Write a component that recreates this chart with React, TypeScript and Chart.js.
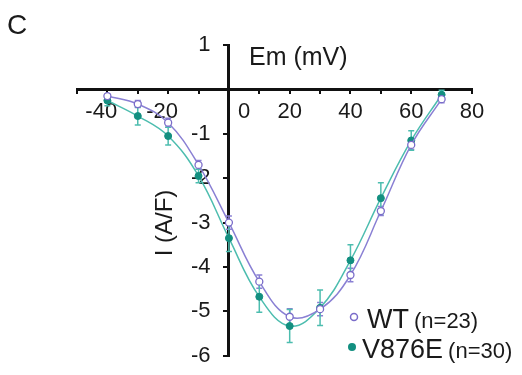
import React, { useEffect, useRef } from "react";
import { Chart, registerables } from "chart.js";

Chart.register(...registerables);

const voltages = [-40, -30, -20, -10, 0, 10, 20, 30, 40, 50, 60, 70];
const wtCurrent = [-0.15, -0.33, -0.75, -1.7, -3.0, -4.33, -5.12, -4.95, -4.18, -2.74, -1.25, -0.22];
const wtErr = [0.05, 0.08, 0.1, 0.1, 0.15, 0.15, 0.18, 0.15, 0.15, 0.1, 0.1, 0.08];
const mutCurrent = [-0.25, -0.6, -1.05, -1.95, -3.35, -4.67, -5.33, -4.92, -3.85, -2.45, -1.15, -0.12];
const mutErr = [0.12, 0.2, 0.2, 0.15, 0.3, 0.35, 0.37, 0.4, 0.35, 0.35, 0.22, 0.1];
const xTickLabels = ["-40", "-20", "0", "20", "40", "60", "80"];
const panelLabel = "C";
const xTitle = "Em (mV)";
const yTitle = "I (A/F)";
const legendNames = ["WT", "V876E"];
const legendNs = ["(n=23)", "(n=30)"];

const WT_COLOR = "#7a6cc9";
const WT_LINE = "#8a80d4";
const MUT_COLOR = "#138f80";
const MUT_LINE = "#4dbdaf";
const TEXT = "#1a1a1a";
const FONT = "'Liberation Sans', Arial, sans-serif";

export default function App() {
  const ref = useRef<HTMLCanvasElement | null>(null);
  useEffect(() => {
    if (!ref.current) return;
    const errPlugin = {
      id: "errbars",
      beforeDatasetsDraw(chart: any) {
        const { ctx, scales } = chart;
        const xs = scales.x;
        const ys = scales.y;
        const draw = (vals: number[], errs: number[], color: string) => {
          ctx.save();
          ctx.strokeStyle = color;
          ctx.lineWidth = 1.5;
          voltages.forEach((v, i) => {
            const px = xs.getPixelForValue(v);
            const top = ys.getPixelForValue(vals[i] + errs[i]);
            const bot = ys.getPixelForValue(vals[i] - errs[i]);
            ctx.beginPath();
            ctx.moveTo(px, top);
            ctx.lineTo(px, bot);
            ctx.moveTo(px - 3, top);
            ctx.lineTo(px + 3, top);
            ctx.moveTo(px - 3, bot);
            ctx.lineTo(px + 3, bot);
            ctx.stroke();
          });
          ctx.restore();
        };
        draw(wtCurrent, wtErr, WT_LINE);
        draw(mutCurrent, mutErr, MUT_LINE);
      },
    };
    const textPlugin = {
      id: "texts",
      afterDraw(chart: any) {
        const { ctx } = chart;
        ctx.save();
        ctx.fillStyle = TEXT;
        ctx.textBaseline = "alphabetic";
        ctx.textAlign = "left";
        ctx.font = `28px ${FONT}`;
        ctx.fillText(panelLabel, 7, 34);
        ctx.font = `25px ${FONT}`;
        ctx.fillText(xTitle, 249, 65);
        ctx.save();
        ctx.translate(172, 223);
        ctx.rotate(-Math.PI / 2);
        ctx.textAlign = "center";
        ctx.font = `24px ${FONT}`;
        ctx.fillText(yTitle, 0, 0);
        ctx.restore();
        // legend markers
        ctx.beginPath();
        ctx.arc(354, 317, 3.5, 0, Math.PI * 2);
        ctx.fillStyle = "#fff";
        ctx.fill();
        ctx.strokeStyle = WT_COLOR;
        ctx.lineWidth = 1.5;
        ctx.stroke();
        ctx.beginPath();
        ctx.arc(352, 347, 4, 0, Math.PI * 2);
        ctx.fillStyle = MUT_COLOR;
        ctx.fill();
        ctx.fillStyle = TEXT;
        const starts = [367, 362];
        const bases = [328, 358];
        for (let i = 0; i < 2; i++) {
          ctx.font = `27px ${FONT}`;
          ctx.fillText(legendNames[i], starts[i], bases[i]);
          const w = ctx.measureText(legendNames[i]).width;
          ctx.font = `22px ${FONT}`;
          ctx.fillText(legendNs[i], starts[i] + w + 5, bases[i]);
        }
        ctx.restore();
      },
    };
    const chart = new Chart(ref.current, {
      type: "scatter",
      data: {
        datasets: [
          {
            label: legendNames[0],
            data: voltages.map((v, i) => ({ x: v, y: wtCurrent[i] })),
            showLine: true,
            tension: 0.4,
            borderColor: WT_LINE,
            borderWidth: 1.5,
            pointRadius: 3.5,
            pointBackgroundColor: "#fff",
            pointBorderColor: WT_COLOR,
            pointBorderWidth: 1.3,
          },
          {
            label: legendNames[1],
            data: voltages.map((v, i) => ({ x: v, y: mutCurrent[i] })),
            showLine: true,
            tension: 0.4,
            borderColor: MUT_LINE,
            borderWidth: 1.5,
            pointRadius: 3.5,
            pointBackgroundColor: MUT_COLOR,
            pointBorderColor: MUT_COLOR,
            pointBorderWidth: 1,
          },
        ],
      },
      options: {
        responsive: false,
        animation: false,
        layout: { padding: { left: 77, right: 50, top: 45, bottom: 14 } },
        plugins: { legend: { display: false }, tooltip: { enabled: false } },
        scales: {
          x: {
            type: "linear",
            min: -50,
            max: 80,
            position: { y: 0 } as any,
            grid: { display: true, drawOnChartArea: false, drawTicks: true, tickLength: 3, color: "#111", lineWidth: 2 },
            border: { display: true, color: "#111", width: 3 },
            ticks: {
              stepSize: 10,
              autoSkip: false,
              maxRotation: 0,
              padding: 6,
              color: TEXT,
              font: { family: FONT, size: 22 },
              callback: (v: any) => {
                const s = String(v);
                if (!xTickLabels.includes(s)) return "";
                if (s === "0") return "     0";
                return v < 0 ? s + "  " : s;
              },
            },
          },
          y: {
            type: "linear",
            min: -6,
            max: 1,
            position: { x: 0 } as any,
            grid: { display: true, drawOnChartArea: false, drawTicks: true, tickLength: 4, color: "#111", lineWidth: 2 },
            border: { display: true, color: "#111", width: 3 },
            ticks: {
              stepSize: 1,
              autoSkip: false,
              padding: 6,
              color: TEXT,
              font: { family: FONT, size: 22 },
              callback: (v: any) => (v === 0 ? "" : String(v) + "   "),
            },
          },
        },
      },
      plugins: [errPlugin, textPlugin],
    });
    return () => chart.destroy();
  }, []);
  return (
    <div style={{ position: "absolute", left: 0, top: 0, width: 522, height: 375, background: "#fff" }}>
      <canvas ref={ref} width={522} height={375} />
    </div>
  );
}
